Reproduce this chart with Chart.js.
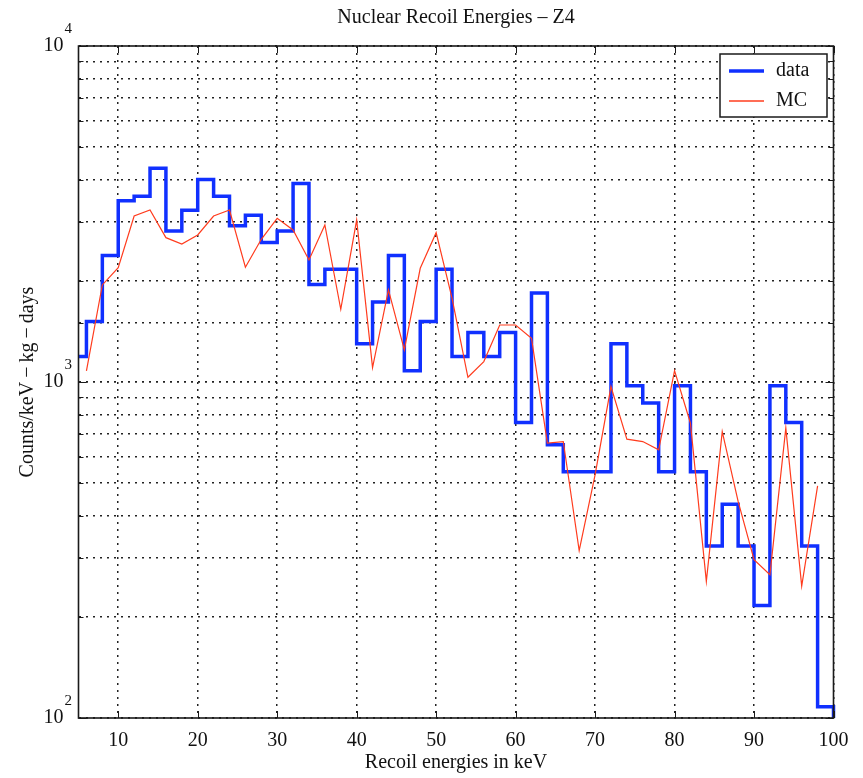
<!DOCTYPE html>
<html>
<head>
<meta charset="utf-8">
<title>Nuclear Recoil Energies – Z4</title>
<script src="https://cdn.jsdelivr.net/npm/chart.js@4.4.1/dist/chart.umd.min.js"></script>
<style>
  html,body{margin:0;padding:0;background:#fff}
  #wrap{width:863px;height:778px;position:relative}
</style>
</head>
<body>
<div id="wrap"><canvas id="recoilChart"></canvas></div>
<script>
// ======= Data =======
// measured spectrum, drawn as stairs: each value holds from its edge to the next one
const dataEdges = [4,6,8,10,12,14,16,18,20,22,24,26,28,30,32,34,36,38,40,42,44,46,48,50,
  52,54,56,58,60,62,64,66,68,70,72,74,76,78,80,82,84,86,88,90,92,94,96,98,100];
const dataCounts = [1190,1515,2380,3460,3570,4330,2815,3245,4005,3570,2920,3135,2600,2815,3895,1950,
  2165,2165,1300,1730,2380,1080,1515,2165,1190,1405,1190,1405,757,1840,650,541,541,541,1300,974,
  866,541,974,541,325,433,325,216,974,757,325,108,10];

// Monte Carlo prediction
const mcEnergies = [6,8,10,12,14,16,18,20,22,24,26,28,30,32,34,36,38,40,42,44,46,48,50,52,54,56,
  58,60,62,64,66,68,70,72,74,76,78,80,82,84,86,88,90,92,94,96,98];
const mcCounts = [1079,1945,2189,3119,3250,2689,2575,2739,3119,3250,2195,2659,3070,2834,2308,2933,
  1646,3034,1104,1879,1246,2180,2782,1778,1033,1150,1478,1478,1350,658,665,315,529,969,676,665,
  628,1081,754,255,712,441,296,267,729,247,491];

const xTicks = [10,20,30,40,50,60,70,80,90,100];
const yDecades = [100,1000,10000];

const FONT = "'Liberation Serif','Times New Roman',serif";
const BLUE = '#1030ff';
const RED = '#ff3c1e';

// axis box, inward ticks, tick labels, titles and legend (MATLAB style)
const frame = {
  id:'frame',
  afterDraw(chart){
    const {ctx, chartArea:a, scales:{x,y}} = chart;
    ctx.save();
    ctx.strokeStyle='#1a1a1a'; ctx.lineWidth=1;
    ctx.beginPath();
    xTicks.forEach(v=>{
      const px=Math.round(x.getPixelForValue(v))+0.5;
      ctx.moveTo(px,a.bottom); ctx.lineTo(px,a.bottom-7);
      ctx.moveTo(px,a.top); ctx.lineTo(px,a.top+7);
    });
    y.ticks.forEach(t=>{
      const py=Math.round(y.getPixelForValue(t.value))+0.5;
      const len=yDecades.includes(t.value)?8:5;
      ctx.moveTo(a.left,py); ctx.lineTo(a.left+len,py);
      ctx.moveTo(a.right,py); ctx.lineTo(a.right-len,py);
    });
    ctx.stroke();
    ctx.lineWidth=1.6;
    ctx.strokeRect(a.left,a.top,a.right-a.left,a.bottom-a.top);

    ctx.fillStyle='#111';
    // x tick labels
    ctx.font='20px '+FONT; ctx.textAlign='center'; ctx.textBaseline='middle';
    xTicks.forEach(v=>ctx.fillText(String(v),x.getPixelForValue(v),741));
    // y tick labels as 10^n
    yDecades.forEach(v=>{
      const py=y.getPixelForValue(v);
      ctx.font='20px '+FONT; ctx.textAlign='right';
      ctx.fillText('10',a.left-15,py);
      ctx.font='15px '+FONT; ctx.textAlign='left';
      ctx.fillText(String(Math.round(Math.log10(v))),a.left-14,py-17);
    });
    // titles
    ctx.font='20px '+FONT; ctx.textAlign='center';
    const cx=(a.left+a.right)/2;
    ctx.fillText('Nuclear Recoil Energies – Z4',cx,18);
    ctx.fillText('Recoil energies in keV',cx,763);
    ctx.save();
    ctx.translate(28,(a.top+a.bottom)/2); ctx.rotate(-Math.PI/2);
    ctx.fillText('Counts/keV\u2009\u2212\u2009kg\u2009\u2212\u2009days',0,0);
    ctx.restore();

    // legend
    const lx=a.right-113.5, ly=a.top+8, lw=107, lh=63;
    ctx.fillStyle='#fff'; ctx.fillRect(lx,ly,lw,lh);
    ctx.lineWidth=1.5; ctx.strokeStyle='#1a1a1a'; ctx.strokeRect(lx,ly,lw,lh);
    const items=[{t:'data',c:BLUE,w:3.5,y:ly+17},{t:'MC',c:RED,w:1.3,y:ly+47}];
    items.forEach(it=>{
      ctx.strokeStyle=it.c; ctx.lineWidth=it.w;
      ctx.beginPath(); ctx.moveTo(lx+9,it.y); ctx.lineTo(lx+44,it.y); ctx.stroke();
      ctx.fillStyle='#111'; ctx.font='20px '+FONT; ctx.textAlign='left';
      ctx.fillText(it.t,lx+56,it.y);
    });
    ctx.restore();
  }
};

const ctx=document.getElementById('recoilChart').getContext('2d');
new Chart(ctx,{
  type:'line',
  data:{
    datasets:[
      {label:'data',data:dataEdges.map((e,i)=>({x:e,y:dataCounts[i]})),
       borderColor:BLUE,borderWidth:3.5,stepped:'before',pointRadius:0,order:2,
       clip:{left:0,top:0,right:3,bottom:0}},
      {label:'MC',data:mcEnergies.map((e,i)=>({x:e,y:mcCounts[i]})),
       borderColor:RED,borderWidth:1.2,pointRadius:0,tension:0,order:1,clip:0}
    ]
  },
  options:{
    responsive:true,maintainAspectRatio:false,animation:false,
    layout:{padding:{left:78.5,top:46,right:29.5,bottom:60}},
    plugins:{legend:{display:false},tooltip:{enabled:false},title:{display:false}},
    scales:{
      x:{type:'linear',min:5,max:100,
        afterBuildTicks:s=>{s.ticks=xTicks.map(v=>({value:v}));},
        ticks:{display:false},
        grid:{color:'#222',lineWidth:1.5,drawTicks:false},
        border:{display:false,dash:[2,5]}},
      y:{type:'logarithmic',min:100,max:10000,
        ticks:{display:false,autoSkip:false},
        grid:{color:'#222',lineWidth:c=>yDecades.includes(c.tick&&c.tick.value)?1.8:1.5,drawTicks:false},
        border:{display:false,dash:[2,5]}}
    }
  },
  plugins:[frame]
});
</script>
</body>
</html>
